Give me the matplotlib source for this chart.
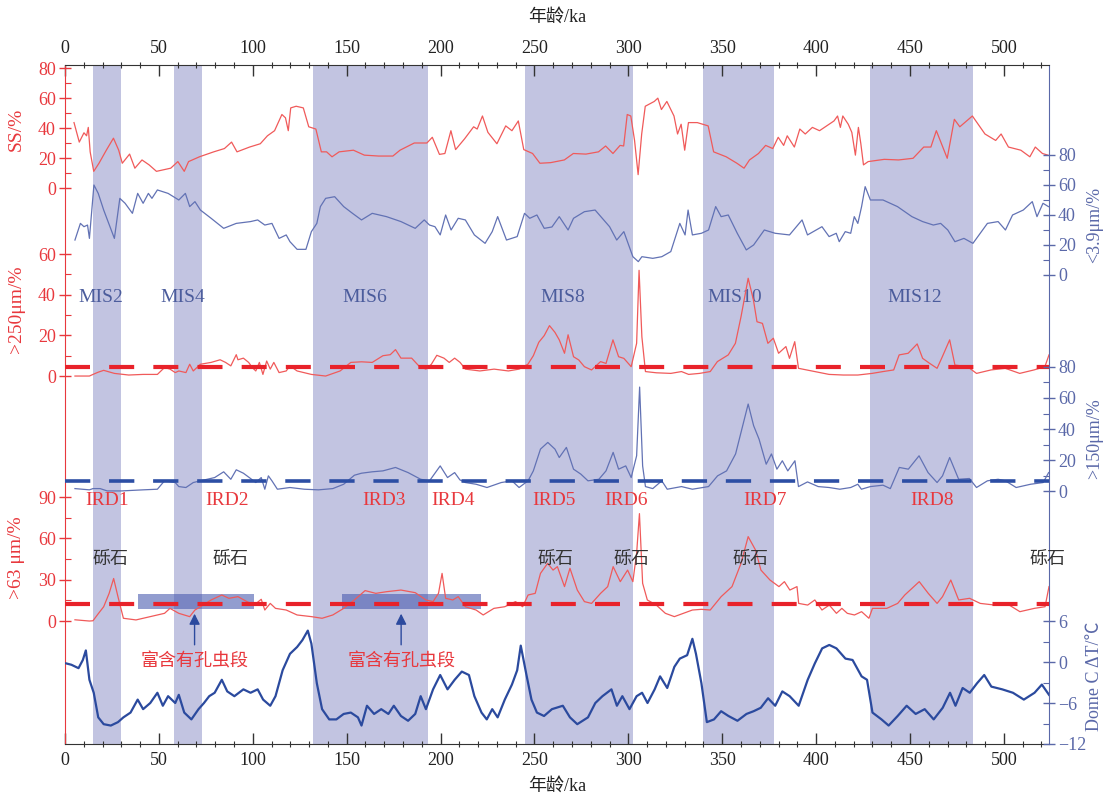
import matplotlib
matplotlib.use('Agg')
import matplotlib.pyplot as plt
from matplotlib.ticker import MultipleLocator, FixedLocator

# ---------------- data ----------------
mis_bands = [(14.7, 30.0), (58.2, 72.7), (131.9, 193.5), (245.2, 302.7),
             (340.0, 377.5), (428.5, 483.3)]
mis_labels = ["MIS2", "MIS4", "MIS6", "MIS8", "MIS10", "MIS12"]
mis_label_x = [19.3, 62.5, 159.4, 265.0, 356.5, 452.4]

ird_labels = ["IRD1", "IRD2", "IRD3", "IRD4", "IRD5", "IRD6", "IRD7", "IRD8"]
ird_label_x = [22.5, 86.4, 170.0, 206.5, 260.5, 298.7, 372.7, 461.6]

gravel_label = "砾石"
gravel_x = [24.4, 87.9, 261.0, 301.5, 365.0, 523.0]

foram_label = "富含有孔虫段"
foram_bars = [(38.7, 100.7), (147.4, 221.4)]
foram_bar_range = (8.7, 19.6)        # in >63 μm units
foram_arrow_x = [69.0, 179.0]

ss_age = [4.8, 7.6, 10.1, 11.5, 12.4, 13.4, 15.3, 18.1, 22.0, 25.8, 28.6, 30.5, 34.4, 37.2, 41.0,
          44.8, 48.7, 56.3, 60.1, 63.5, 65.8, 71.6, 79.2, 84.9, 88.7, 91.6, 98.3, 104.0, 107.8,
          111.6, 115.5, 117.4, 118.9, 120.2, 123.1, 126.9, 129.8, 133.6, 136.5, 139.3, 142.2,
          146.0, 153.6, 159.4, 167.0, 174.6, 178.4, 186.0, 192.7, 195.6, 199.4, 202.3, 205.5,
          208.0, 212.8, 217.6, 219.5, 222.3, 225.2, 230.0, 234.7, 238.0, 241.4, 244.3, 249.0,
          252.9, 258.6, 265.9, 270.7, 277.4, 284.1, 287.9, 291.8, 295.6, 297.5, 299.4, 301.3,
          303.3, 305.2, 307.1, 309.0, 313.8, 315.7, 317.6, 320.5, 324.3, 326.2, 328.1, 330.0,
          332.0, 336.7, 342.5, 345.4, 352.1, 357.8, 361.6, 364.5, 369.3, 373.1, 376.9, 379.8,
          382.7, 384.6, 388.4, 391.3, 394.2, 398.0, 401.8, 405.6, 409.5, 411.4, 412.9, 414.2,
          417.1, 419.0, 420.9, 422.5, 423.8, 425.2, 427.7, 436.3, 443.9, 451.6, 457.3, 461.1,
          464.0, 469.8, 473.6, 476.5, 483.2, 489.9, 495.6, 498.5, 502.4, 509.0, 513.8, 516.7,
          520.5, 523.4]
ss_val = [43.8, 30.8, 37.0, 35.0, 40.6, 24.3, 11.3, 16.7, 25.4, 33.4, 25.4, 16.7, 22.8, 13.4, 18.9,
          15.6, 11.3, 13.4, 17.8, 11.3, 17.8, 21.0, 24.3, 26.5, 30.8, 24.3, 27.5, 29.7, 35.0,
          38.4, 49.2, 47.0, 38.4, 53.6, 54.7, 53.6, 41.0, 39.5, 24.3, 24.3, 21.0,
          24.3, 25.4, 22.1, 21.5, 21.5, 25.4, 30.2, 30.2, 34.0, 22.6, 23.2, 38.4,
          25.8, 33.0, 41.0, 39.5, 48.2, 37.3, 29.7, 41.6, 38.4, 44.9, 25.8, 23.2,
          16.7, 17.1, 18.9, 23.2, 22.8, 24.3, 28.2, 23.2, 28.6, 28.2, 49.2, 48.2,
          31.9, 9.1, 36.2, 54.7, 57.9, 60.1, 52.5, 57.9, 48.2, 36.2, 42.7, 25.4,
          43.8, 43.8, 41.6, 24.3, 21.0, 16.7, 13.4, 18.9, 23.2, 28.6, 26.5, 34.0,
          28.6, 35.0, 27.5, 39.5, 36.2, 40.6, 38.4, 41.6, 44.9, 48.2, 40.6, 48.2,
          42.7, 37.3, 22.1, 40.6, 29.7, 15.6, 17.8, 19.3, 18.9, 20.0, 27.5, 27.5,
          38.4, 20.0, 46.0, 41.0, 48.2, 36.2, 31.9, 36.2, 27.5, 25.4, 21.0, 27.5,
          23.2, 22.1]

clay_age = [5.3, 8.2, 10.1, 12.0, 13.0, 14.5, 15.4, 17.7, 20.6, 26.3, 29.2, 32.0, 35.9, 38.7,
            41.6, 44.4, 46.3, 49.2, 54.9, 60.6, 64.1, 66.4, 69.2, 72.1, 77.8, 84.5, 91.2, 98.8,
            102.6, 106.4, 110.2, 114.0, 117.8, 119.8, 123.6, 128.3, 131.2, 134.1, 136.0, 138.8,
            143.6, 148.4, 153.1, 157.9, 163.6, 171.2, 178.9, 186.5, 191.3, 194.1, 197.0, 199.8,
            202.7, 205.6, 209.4, 213.2, 218.0, 223.7, 227.5, 230.4, 235.1, 240.8, 244.7, 247.5,
            251.3, 255.2, 259.3, 263.2, 267.9, 270.8, 276.6, 282.3, 290.0, 293.8, 297.6, 302.4,
            305.3, 307.2, 313.0, 317.8, 322.6, 327.4, 330.2, 331.8, 334.1, 338.9, 342.7, 346.5,
            349.4, 353.2, 358.0, 362.8, 366.7, 372.4, 378.2, 385.8, 392.5, 395.4, 403.1, 406.9,
            410.7, 412.3, 415.5, 418.4, 420.3, 422.2, 424.2, 426.1, 428.9, 435.6, 443.3, 451.0,
            456.7, 462.4, 466.3, 470.1, 473.9, 478.7, 483.5, 491.2, 496.9, 500.8, 504.6, 510.3,
            515.1, 517.6, 520.8, 523.7]
clay_val = [23.3, 34.4, 32.2, 33.3, 24.4, 46.7, 60.0, 54.4, 43.3, 24.4, 51.1, 47.8, 41.1, 54.4,
            47.8, 54.4, 51.1, 56.7, 54.4, 50.0, 54.4, 45.6, 48.9, 43.3, 37.8, 31.1, 34.4, 35.6,
            36.7, 33.3, 34.4, 24.4, 26.7, 22.2, 17.1, 17.1, 28.9, 34.4, 45.6, 51.1,
            52.2, 45.6, 41.1, 36.7, 41.1, 38.9, 35.6, 31.1, 36.7, 33.3, 32.2, 26.7,
            40.0, 30.0, 37.8, 36.7, 26.7, 21.1, 28.9, 38.9, 23.3, 25.6, 41.1, 37.8,
            40.0, 31.1, 32.0, 38.9, 30.0, 37.8, 42.2, 43.3, 32.2, 23.3, 28.9, 12.2,
            8.9, 12.2, 11.1, 12.2, 15.6, 34.4, 26.7, 43.3, 26.7, 27.8, 30.0, 45.6,
            38.9, 40.0, 27.8, 16.7, 20.0, 30.0, 27.8, 26.7, 36.7, 26.7, 32.2, 25.6,
            27.8, 22.2, 28.9, 27.8, 38.9, 34.4, 45.6, 58.9, 50.0, 50.0, 45.6, 38.9,
            35.6, 33.3, 34.4, 30.0, 22.2, 24.4, 21.1, 34.4, 35.6, 30.0, 40.0, 43.3,
            48.9, 38.9, 47.8, 45.6]

c250_age = [5.3, 13.0, 14.9, 17.7, 20.6, 26.3, 33.9, 41.6, 49.2, 53.0, 55.9, 58.7, 60.6, 64.4,
            66.4, 68.3, 72.1, 77.8, 82.6, 85.5, 88.3, 91.2, 92.1, 95.0, 97.8, 99.7, 101.6, 103.5,
            105.4, 107.4, 109.3, 111.2, 114.0, 117.8, 119.8, 123.6, 131.2, 138.8, 146.5, 152.2,
            157.9, 163.6, 169.3, 173.2, 176.0, 178.9, 184.6, 188.4, 192.2, 195.1, 198.0, 201.8,
            204.6, 207.5, 210.4, 213.2, 220.9, 228.5, 236.1, 241.8, 246.5, 249.4, 252.3, 255.2,
            258.0, 260.9, 263.2, 266.0, 267.9, 270.8, 273.6, 276.6, 280.4, 285.2, 288.1, 291.8,
            294.8, 297.6, 301.5, 304.4, 305.7, 307.2, 309.1, 314.9, 322.6, 328.3, 332.1, 337.9,
            343.6, 347.4, 353.2, 357.0, 360.0, 363.8, 366.6, 368.5, 371.4, 374.3, 377.2, 380.0,
            383.9, 385.8, 388.6, 390.6, 399.2, 406.9, 414.5, 422.2, 429.8, 435.6, 441.3, 444.2,
            449.0, 453.8, 456.7, 460.5, 464.4, 467.2, 471.1, 473.9, 480.6, 485.4, 493.1, 500.7,
            508.4, 516.0, 521.8, 524.0]
c250_val = [0.0, 0.0, 0.8, 1.9, 2.8, 1.3, 0.5, 0.8, 0.8, 4.2, 3.4, 1.7, 2.5, 1.7,
            5.8, 2.5, 5.8, 6.7, 8.0, 6.7, 5.0, 10.5, 8.0, 8.8, 6.7, 4.2, 2.5, 6.7,
            0.8, 7.4, 3.4, 6.7, 1.7, 2.5, 5.0, 2.5, 0.8, 0.0, 2.5, 6.7,
            7.0, 6.7, 10.0, 10.5, 13.0, 8.8, 8.8, 5.0, 3.4, 5.8, 10.2, 8.8,
            6.7, 8.8, 6.7, 3.4, 2.5, 3.4, 2.5, 3.4, 5.8, 10.0, 16.6, 19.9,
            24.8, 21.5, 17.8, 11.2, 20.3, 9.5, 7.9, 4.6, 3.0, 7.1, 6.2, 17.8,
            9.5, 8.7, 4.6, 16.1, 52.0, 19.3, 2.2, 1.6, 1.3, 2.2, 0.8, 1.3,
            2.2, 7.1, 10.4, 16.1, 29.2, 48.1, 37.4, 26.7, 25.9, 16.1, 18.6, 11.2,
            14.5, 8.7, 16.9, 3.8, 2.2, 0.8, 0.5, 0.5, 1.3, 2.2, 3.0, 10.4,
            11.2, 15.8, 8.7, 6.2, 3.8, 9.5, 17.8, 5.4, 4.6, 1.3, 3.0, 3.8,
            1.3, 3.0, 4.6, 10.4]

c150_age = [5.3, 13.0, 14.9, 18.7, 22.5, 30.1, 41.6, 49.2, 53.0, 58.7, 60.6, 64.4, 68.3, 72.1,
            79.7, 84.5, 88.3, 91.2, 95.0, 98.8, 101.6, 104.5, 106.4, 108.3, 110.2, 113.1, 119.8,
            127.4, 135.0, 142.6, 148.4, 154.1, 157.9, 163.6, 169.3, 176.0, 182.7, 189.4, 194.1,
            199.8, 203.7, 207.5, 210.3, 213.2, 218.9, 224.7, 232.3, 238.0, 241.8, 246.6, 249.4,
            253.2, 257.1, 260.9, 263.2, 267.0, 270.8, 274.7, 278.5, 284.3, 288.1, 291.9, 294.8,
            298.6, 301.5, 304.4, 306.0, 307.6, 309.1, 313.0, 317.8, 320.7, 328.3, 334.1, 342.7,
            347.5, 352.3, 357.1, 360.9, 363.8, 366.7, 369.6, 373.4, 376.2, 379.1, 382.0, 384.9,
            388.7, 390.6, 395.4, 401.1, 406.9, 412.6, 418.4, 422.2, 424.1, 428.9, 435.6, 439.5,
            444.3, 449.1, 454.8, 459.6, 464.4, 467.3, 471.1, 475.9, 481.6, 485.4, 491.2, 496.9,
            500.8, 506.5, 514.2, 520.9, 523.8]
c150_val = [1.7, 0.9, 1.7, 1.7, 0.2, 0.2, 0.9, 1.3, 6.7, 5.6, 3.0, 2.4, 5.6, 6.7,
            8.8, 12.5, 7.7, 13.8, 11.6, 8.2, 5.6, 8.8, 1.3, 9.9, 6.7, 1.3, 2.4,
            1.3, 0.9, 1.7, 4.5, 10.3, 11.6, 12.5, 13.1, 15.3, 12.0, 7.7, 6.7,
            16.3, 8.8, 12.0, 7.3, 5.6, 4.5, 2.4, 5.6, 6.7, 2.4, 6.7, 13.1,
            27.1, 31.4, 27.1, 21.7, 28.2, 14.2, 11.0, 6.7, 7.7, 13.1, 25.0, 14.2,
            16.3, 8.8, 22.8, 67.0, 16.3, 3.0, 1.7, 6.7, 1.3, 3.0, 1.3, 3.0,
            9.9, 13.1, 24.0, 42.2, 56.1, 42.2, 33.5, 17.4, 24.0, 14.2, 19.6, 13.1,
            19.6, 3.0, 6.0, 3.0, 2.4, 1.3, 2.4, 4.5, 1.3, 3.0, 3.9, 1.7,
            15.3, 14.2, 22.8, 12.0, 5.6, 9.9, 21.7, 7.7, 8.2, 2.4, 6.7, 7.7,
            6.7, 2.4, 4.5, 5.6, 12.0]

c63_age = [5.3, 13.0, 14.9, 17.7, 20.6, 23.5, 25.9, 28.2, 31.1, 37.8, 45.4, 53.0, 55.9, 60.6,
           66.4, 69.2, 72.1, 77.8, 83.5, 87.3, 92.1, 96.9, 100.7, 104.5, 106.4, 109.3, 112.1,
           117.8, 123.6, 131.2, 136.9, 142.6, 148.4, 154.1, 159.8, 165.5, 171.2, 178.9, 186.5,
           192.2, 196.0, 198.9, 200.8, 202.7, 206.5, 209.4, 213.2, 218.9, 222.7, 228.4, 234.2,
           239.9, 243.7, 246.6, 250.4, 253.2, 257.0, 259.9, 262.2, 266.0, 268.9, 272.8, 276.6,
           280.4, 285.2, 289.0, 291.9, 295.7, 299.6, 302.4, 304.4, 305.9, 307.6, 310.1, 314.9,
           319.7, 324.5, 329.3, 334.1, 338.9, 343.6, 349.4, 355.2, 360.0, 363.8, 367.7, 370.6,
           375.4, 380.2, 383.1, 386.0, 389.8, 390.7, 395.5, 399.3, 403.1, 407.0, 410.8, 413.7,
           416.6, 420.4, 424.2, 428.1, 430.0, 437.6, 443.4, 447.2, 454.9, 459.7, 464.4, 467.3,
           471.7, 475.9, 481.7, 487.4, 495.1, 502.8, 508.5, 516.2, 521.9, 524.0]
c63_val = [0.9, 0.0, 0.2, 5.3, 10.4, 20.1, 30.9, 17.7, 2.0, 0.8, 3.2, 5.6, 9.2, 5.6,
           3.2, 8.0, 10.4, 15.3, 18.9, 16.5, 17.7, 14.1, 11.6, 15.8, 8.0, 12.8, 9.2,
           8.0, 4.4, 3.2, 2.0, 4.4, 9.2, 15.3, 22.1, 20.1, 21.3, 22.5, 20.6,
           15.3, 14.1, 20.1, 34.6, 16.5, 15.3, 17.7, 10.4, 8.0, 4.4, 9.2, 10.4,
           14.1, 10.4, 18.9, 20.1, 34.6, 41.9, 37.0, 39.5, 25.0, 38.3, 22.5, 14.1,
           12.8, 20.1, 25.0, 39.5, 28.6, 37.0, 28.6, 49.2, 78.0, 27.4, 15.3, 11.6,
           5.6, 3.2, 5.6, 8.0, 8.5, 8.0, 17.7, 25.0, 41.9, 61.3, 51.6, 37.0,
           29.8, 25.0, 28.6, 22.5, 25.0, 12.8, 11.6, 15.3, 8.0, 11.6, 5.6, 9.2,
           5.6, 4.4, 6.8, 2.0, 9.2, 9.2, 12.8, 18.9, 28.6, 20.1, 12.8, 17.7,
           29.8, 15.3, 16.5, 12.8, 11.6, 11.6, 6.8, 9.2, 10.4, 25.0]

dome_age = [0.6, 3.4, 7.2, 9.5, 11.1, 13.0, 15.3, 17.7, 20.6, 24.4, 28.2, 31.1, 34.9, 38.7, 41.6,
            45.4, 49.2, 52.1, 54.9, 58.7, 60.6, 63.5, 67.3, 71.1, 74.0, 76.8, 79.7, 83.5, 86.4,
            90.2, 95.0, 98.8, 102.6, 105.5, 109.3, 112.1, 115.9, 119.8, 123.6, 126.4, 129.3,
            131.2, 134.1, 136.9, 140.7, 144.5, 148.4, 152.2, 156.0, 157.9, 160.8, 164.6, 168.4,
            172.2, 175.1, 178.9, 182.7, 186.5, 189.4, 192.2, 196.0, 199.8, 203.7, 207.5, 211.3,
            215.1, 218.0, 221.8, 224.6, 227.5, 230.4, 234.2, 238.0, 240.8, 242.7, 245.6, 248.4,
            251.3, 255.1, 259.3, 265.1, 268.9, 272.8, 278.5, 282.4, 286.2, 291.0, 293.9, 296.8,
            300.6, 304.4, 307.3, 310.2, 314.0, 316.9, 320.7, 324.5, 327.4, 331.3, 334.1, 336.0,
            338.9, 341.8, 345.6, 349.4, 353.3, 358.1, 362.9, 366.7, 370.5, 374.4, 378.2, 382.0,
            385.9, 390.7, 395.5, 399.3, 403.2, 407.0, 410.8, 415.6, 419.4, 424.2, 427.1, 430.0,
            434.8, 438.6, 443.4, 448.2, 453.0, 457.8, 462.6, 467.4, 471.3, 474.2, 478.0, 481.8,
            485.7, 489.5, 493.3, 499.1, 504.8, 510.6, 516.3, 520.2, 524.0]
dome_val = [-0.2, -0.4, -0.9, 0.3, 1.7, -2.6, -4.5, -8.1, -9.1, -9.3, -8.8, -8.1, -7.4, -5.5, -6.9,
            -6.0, -4.5, -6.4, -5.0, -6.0, -4.8, -7.4, -8.4, -6.9, -6.0, -5.0, -4.5, -2.6, -4.3,
            -5.0, -4.0, -4.5, -4.0, -5.5, -6.4, -5.0, -1.2, 1.2, 2.2, 3.2, 4.6,
            2.7, -3.1, -6.9, -8.4, -8.4, -7.6, -7.4, -8.1, -9.3, -6.4, -7.6, -6.9,
            -7.6, -6.4, -7.9, -8.6, -7.6, -5.0, -6.9, -4.0, -1.9, -4.0, -2.6, -1.4,
            -1.9, -5.0, -7.4, -8.4, -6.9, -8.1, -5.5, -3.3, -1.2, 2.4, -1.7, -5.5,
            -7.4, -7.9, -6.9, -6.4, -8.1, -9.1, -8.1, -6.0, -5.0, -4.0, -6.4, -5.0,
            -6.9, -5.0, -4.5, -6.0, -4.0, -2.1, -3.8, -0.7, 0.5, 1.0, 3.4, 1.2,
            -3.1, -8.8, -8.4, -7.2, -7.9, -8.6, -7.6, -7.2, -6.7, -5.3, -6.4, -4.3,
            -5.0, -6.4, -2.6, -0.2, 2.0, 2.5, 2.0, 0.5, 0.3, -2.1, -2.6, -7.4,
            -8.4, -9.3, -7.9, -6.4, -7.6, -6.9, -8.4, -6.7, -4.5, -6.4, -3.8, -4.5,
            -3.1, -1.9, -3.6, -4.0, -4.5, -5.5, -4.5, -3.3, -4.8]

ird_thr_250 = 4.6
ird_thr_150 = 6.6
ird_thr_63 = 12.3

# ---------------- style ----------------
plt.rcParams['font.family'] = ['Liberation Serif', 'Noto Sans CJK SC', 'DejaVu Sans']
RED = '#e8383d'
RED_LINE = '#f05a5a'
BLUE_AX = '#5a68a8'
BLUE_LINE = '#6272b4'
DOME = '#2b4a9e'
BAND = '#c2c4e1'
MIS_TXT = '#4b5c9c'

W, H = 1103, 798
L, R, T, B = 65, 1049, 65, 744
rect = [L / W, 1 - B / H, (R - L) / W, (B - T) / H]

fig = plt.figure(figsize=(W / 100, H / 100), dpi=100)
ax = fig.add_axes(rect)
ax.set_xlim(0, 524)
ax.set_ylim(0, 1)
ax.set_yticks([])
for a, b in mis_bands:
    ax.axvspan(a, b, color=BAND, lw=0, zorder=0)

ax.xaxis.set_major_locator(MultipleLocator(50))
ax.xaxis.set_minor_locator(MultipleLocator(10))
ax.tick_params(axis='x', which='major', top=True, labeltop=True, direction='in',
               length=8, width=1, color='#333333', labelsize=13, pad=6, labelcolor='#222222')
ax.tick_params(axis='x', which='minor', top=True, direction='inout', length=5, width=0.8,
               color='#333333')
for s in ['top', 'bottom']:
    ax.spines[s].set_color('#333333')
ax.spines['left'].set_color(RED)
ax.spines['right'].set_color(BLUE_AX)


def twin(ylim, side, color, ticks, minor, label, label_y):
    t = fig.add_axes(rect, sharex=ax)
    t.set_facecolor('none')
    t.set_frame_on(False)
    t.set_ylim(*ylim)
    t.xaxis.set_visible(False)
    t.yaxis.set_ticks_position(side)
    t.yaxis.set_label_position(side)
    t.yaxis.set_major_locator(FixedLocator(ticks))
    t.yaxis.set_minor_locator(FixedLocator(minor))
    t.tick_params(axis='y', which='major', direction='inout', length=9, width=1,
                  color=color, labelcolor=color, labelsize=13, pad=2)
    t.tick_params(axis='y', which='minor', direction='in', length=4, width=0.8, color=color)
    t.set_ylabel(label, color=color, fontsize=14 if side == 'left' else 13)
    t.yaxis.set_label_coords(-0.041 if side == 'left' else 1.038, label_y)
    return t


ax_ss = twin((-370.5, 82.2), 'left', RED, [0, 20, 40, 60, 80], [10, 30, 50, 70],
             'SS/%', 0.905)
ax_clay = twin((-312.7, 140.0), 'right', BLUE_AX, [0, 20, 40, 60, 80], [10, 30, 50, 70],
               '<3.9μm/%', 0.765)
ax_250 = twin((-181.0, 153.0), 'left', RED, [0, 20, 40, 60], [10, 30, 50],
              '>250μm/%', 0.64)
ax_150 = twin((-162.6, 274.2), 'right', BLUE_AX, [0, 20, 40, 60, 80], [10, 30, 50, 70],
              '>150μm/%', 0.45)
ax_63 = twin((-89.3, 403.8), 'left', RED, [0, 30, 60, 90], [15, 45, 75],
             '>63 μm/%', 0.275)
ax_dome = twin((-12.0, 87.4), 'right', BLUE_AX, [-12, -6, 0, 6], [-9, -3, 3],
               'Dome C ΔT/℃', 0.10)

ax_ss.plot(ss_age, ss_val, color=RED_LINE, lw=0.9)
ax_clay.plot(clay_age, clay_val, color=BLUE_LINE, lw=0.9)
ax_250.plot(c250_age, c250_val, color=RED_LINE, lw=0.9)
ax_250.axhline(ird_thr_250, color='#e8222a', lw=3, dashes=(6, 4.6))
ax_150.plot(c150_age, c150_val, color=BLUE_LINE, lw=0.9)
ax_150.axhline(ird_thr_150, color='#2c4ea4', lw=2.6, dashes=(7, 5.2))
for x0, x1 in foram_bars:
    ax_63.bar((x0 + x1) / 2, foram_bar_range[1] - foram_bar_range[0], width=x1 - x0,
              bottom=foram_bar_range[0], color='#4a5cb0', alpha=0.6, lw=0)
ax_63.plot(c63_age, c63_val, color=RED_LINE, lw=0.9)
ax_63.axhline(ird_thr_63, color='#e8222a', lw=3, dashes=(6, 4.6))
ax_dome.plot(dome_age, dome_val, color=DOME, lw=1.6)

tr = ax.get_xaxis_transform()
for lab, x in zip(mis_labels, mis_label_x):
    ax.text(x, 0.657, lab, transform=tr, ha='center', va='center', fontsize=14,
            color=MIS_TXT, zorder=5)
for lab, x in zip(ird_labels, ird_label_x):
    ax_63.text(x, 0.359, lab, transform=tr, ha='center', va='center', fontsize=14,
               color=RED, zorder=5)
for x in gravel_x:
    ax_63.text(x, 0.271, gravel_label, transform=tr, ha='center', va='center', fontsize=13,
               color='#333333', zorder=5)
for x in foram_arrow_x:
    ax_63.text(x, 0.121, foram_label, transform=tr, ha='center', va='center', fontsize=13,
               color=RED, zorder=5)
    ax_63.annotate('', xy=(x, 0.196), xytext=(x, 0.142), xycoords=tr, textcoords=tr,
                   arrowprops=dict(arrowstyle='-|>', color='#2c4a9e', lw=1,
                                   mutation_scale=16))

fig.text(557 / W, 1 - 17 / H, '年龄/ka', ha='center', va='center', fontsize=13,
         color='#222222')
fig.text(557 / W, 1 - 786 / H, '年龄/ka', ha='center', va='center', fontsize=13,
         color='#222222')

fig.savefig('out.png', dpi=100)
